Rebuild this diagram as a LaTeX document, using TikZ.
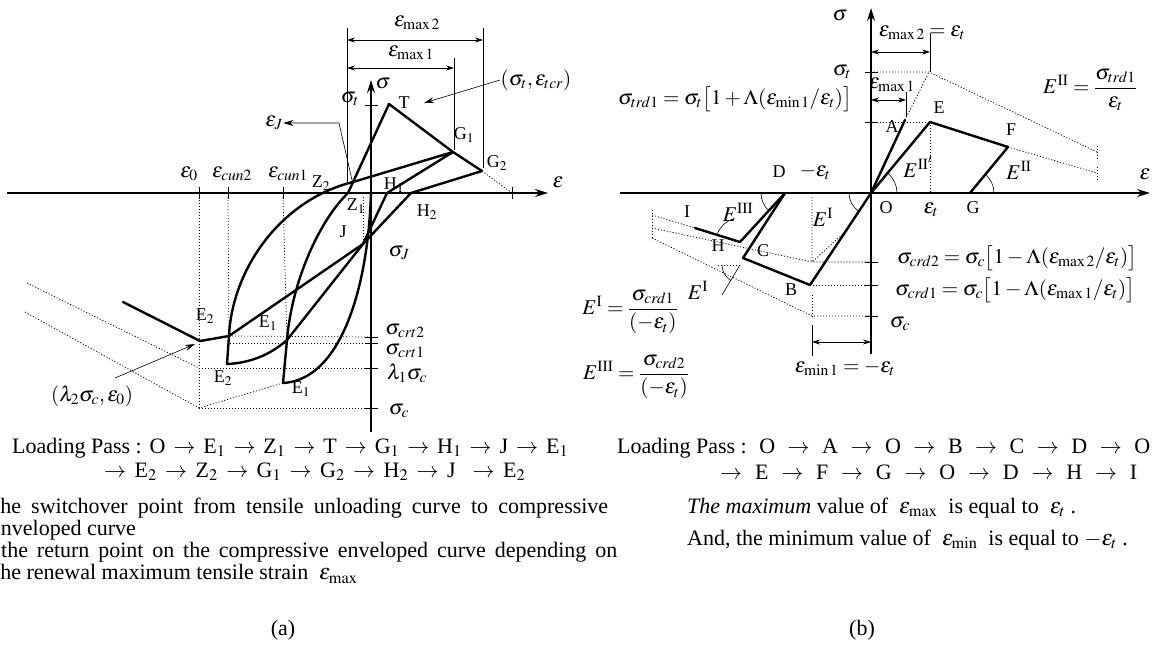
\documentclass[tikz,border=0pt]{standalone}
\usepackage{amsmath}
\usepackage{mathptmx}
\usepackage[no-math]{fontspec}
\setmainfont{Liberation Serif}
\usetikzlibrary{arrows.meta}
\begin{document}
\begin{tikzpicture}[x=1pt,y=-1pt,
  crv/.style={line width=2.4pt,line join=round,line cap=round},
  axl/.style={line width=1.5pt},
  dtl/.style={line width=0.7pt,dash pattern=on 1.2pt off 1.8pt},
  thn/.style={line width=0.6pt},
  tck/.style={line width=1pt},
  lbl/.style={font=\fontsize{18}{20}\selectfont,inner sep=0.5pt},
  mlb/.style={font=\fontsize{21}{23}\selectfont,inner sep=0.5pt},
  txt/.style={font=\fontsize{22}{24}\selectfont,inner sep=0pt,anchor=west},
  axarrow/.style={-{Stealth[length=13pt,width=8pt]}},
  dim/.style={thn,{Stealth[length=8pt,width=5pt]}-{Stealth[length=8pt,width=5pt]}},
  lead/.style={thn,-{Stealth[length=10pt,width=6pt]}}
]
\useasboundingbox (0,0) rectangle (1153,654);

%================ (a) =================
\coordinate (aXs) at (7,193);   \coordinate (aXe) at (548,193);
\coordinate (aYs) at (371,432); \coordinate (aYe) at (371,80);
\coordinate (aO) at (371,193);
\coordinate (aT) at (389,104);
\coordinate (aG1) at (453,152);
\coordinate (aG2) at (482,171);
\coordinate (aEnv) at (512,193);
\coordinate (aH1) at (387,193);
\coordinate (aH2) at (411,193);
\coordinate (aJ) at (363,244);
\coordinate (aZ1) at (348,193);
\coordinate (aZ2) at (353,182);
\coordinate (aE1u) at (287,340);
\coordinate (aE1l) at (283,383);
\coordinate (aE2u) at (229,336);
\coordinate (aE2l) at (227,364);
\coordinate (aP0) at (200,341);
\coordinate (aPend) at (123,302);

% dotted guides
\draw[dtl] (aG2) -- (aEnv);
\draw[dtl] (199,197) -- (199,408);
\draw[dtl] (228,197) -- (aE2u);
\draw[dtl] (283,197) -- (aE1u);
\draw[dtl] (363,197) -- (aJ);
\draw[dtl] (aE2u) -- (371,337);
\draw[dtl] (230,343) -- (371,343);
\draw[dtl] (199,368) -- (371,368);
\draw[dtl] (199,408) -- (371,408);
\draw[dtl] (27,283) -- (199,368);
\draw[dtl] (25,312) -- (199,408) -- (aE1l);

% axes
\draw[axl,axarrow] (aXs) -- (aXe);
\draw[axl,axarrow] (aYs) -- (aYe);
\foreach \x in {199,228,283,512} \draw[tck] (\x,187) -- (\x,199);
\foreach \y in {105,337,343,368,408} \draw[tck] (365,\y) -- (378,\y);

% curves
\draw[crv] (aO) .. controls (368,290) and (340,380) .. (aE1l);
\draw[crv] (aE1l) -- (aE1u) .. controls (292,280) and (320,220) .. (aZ1) -- (aT) -- (aG1) -- (aG2);
\draw[crv] (aG1) -- (aH1) -- (aJ) -- (aE1u) .. controls (270,355) and (250,363) .. (aE2l) -- (aE2u)
  .. controls (232,270) and (280,200) .. (aZ2) -- (aG1);
\draw[crv] (aG2) -- (aH2) -- (aJ) -- (aE2u) -- (aP0) -- (aPend);

% dimension lines
\draw[thn] (347,28) -- (347,183);
\draw[thn] (483,28) -- (483,168);
\draw[thn] (454,58) -- (454,150);
\coordinate (aM2l) at (347,40); \coordinate (aM2r) at (483,40);
\coordinate (aM1l) at (347,68); \coordinate (aM1r) at (454,68);
\draw[dim] (aM2l) -- (aM2r);
\draw[dim] (aM1l) -- (aM1r);

% labels (a)
\node[mlb] (aLeps) at (558,182) {$\varepsilon$};
\node[mlb] (aLsig) at (383,84) {$\sigma$};
\node[mlb] (aLmax2) at (417,23) {$\varepsilon_{\mathrm{max}\,2}$};
\node[mlb] (aLmax1) at (411,53) {$\varepsilon_{\mathrm{max}\,1}$};
\node[mlb] (aLtcr) at (536,80) {$(\sigma_t,\varepsilon_{tcr})$};
\draw[lead] (aLtcr.west) -- (424,103);
\node[lbl] (aLT) at (404,103) {T};
\node[mlb] (aLsigt) at (350,99) {$\sigma_t$};
\node[mlb] (aLepsJ) at (274,123) {$\varepsilon_J$};
\coordinate (aJk) at (339,123);
\draw[thn,-{Stealth[length=10pt,width=6pt]}] (352,180) -- (aJk) -- (aLepsJ.east);
\node[lbl] (aLG1) at (464,135) {G$_1$};
\node[lbl] (aLG2) at (497,163) {G$_2$};
\node[mlb] (aLe0) at (189,174) {$\varepsilon_0$};
\node[mlb] (aLcun2) at (232,174) {$\varepsilon_{cun2}$};
\node[mlb] (aLcun1) at (288,174) {$\varepsilon_{cun1}$};
\node[lbl] (aLZ2) at (321,183) {Z$_2$};
\node[lbl] (aLH1) at (394,185) {H$_1$};
\node[lbl] (aLZ1) at (356,206) {Z$_1$};
\node[lbl] (aLH2) at (427,212) {H$_2$};
\node[lbl] (aLJ) at (343,232) {J};
\node[mlb] (aLsJ) at (399,253) {$\sigma_J$};
\node[lbl] (aLE2a) at (205,316) {E$_2$};
\node[lbl] (aLE1a) at (268,323) {E$_1$};
\node[lbl] (aLE2b) at (223,378) {E$_2$};
\node[lbl] (aLE1b) at (301,389) {E$_1$};
\node[mlb] (aLcrt2) at (405,331) {$\sigma_{crt2}$};
\node[mlb] (aLcrt1) at (405,351) {$\sigma_{crt1}$};
\node[mlb] (aLl1) at (407,373) {$\lambda_1\sigma_c$};
\node[mlb] (aLsc) at (399,411) {$\sigma_c$};
\node[mlb] (aLl2) at (92,396) {$(\lambda_2\sigma_c,\varepsilon_0)$};
\draw[lead] (115,378) -- (195,344);

%================ (b) =================
\coordinate (bXs) at (620,193);  \coordinate (bXe) at (1150,193);
\coordinate (bYs) at (871,354);  \coordinate (bYe) at (871,8);
\coordinate (bO) at (871,193);
\coordinate (bA) at (905,120);
\coordinate (bE) at (930,122);
\coordinate (bF) at (1008,147);
\coordinate (bG) at (970,193);
\coordinate (bD) at (785,193);
\coordinate (bB) at (810,285);
\coordinate (bC) at (743,258);
\coordinate (bH) at (740,242);
\coordinate (bI) at (695,228);
\coordinate (bTop) at (929,72);
\coordinate (bQ) at (740,265);

% dotted guides
\draw[dtl] (871,72) -- (bTop) -- (1097,152);
\draw[dtl] (bA) -- (bTop);
\draw[dtl] (1097,146) -- (1097,160);
\draw[dtl] (871,122) -- (bE);
\draw[dtl] (bF) -- (1097,173);
\draw[dtl] (1097,167) -- (1097,181);
\draw[dtl] (bE) -- (930,193);
\draw[dtl] (652,228) -- (812,262) -- (871,262);
\draw[dtl] (812,197) -- (812,262) -- (845,232);
\draw[dtl] (bB) -- (871,285);
\draw[dtl] (652,238) -- (812,316) -- (871,316);
\draw[dtl] (812,295) -- (812,318);
\draw[dtl] (652,215) -- (bI);
\draw[dtl] (652,210) -- (652,240);
\draw[dtl] (bQ) -- (718,265);

% axes
\draw[axl,axarrow] (bXs) -- (bXe);
\draw[axl,axarrow] (bYs) -- (bYe);
\foreach \y in {72,122,262,285,316} \draw[tck] (865,\y) -- (878,\y);

% paths
\draw[crv] (bD) -- (bO) -- (bG);
\draw[crv] (bO) -- (bA);
\draw[crv] (bO) -- (bB) -- (bC) -- (bD);
\draw[crv] (bO) -- (bE) -- (bF) -- (bG);
\draw[crv] (bD) -- (bH) -- (bI);

% angle arcs
\draw[thn] ([xshift=26pt]bO) arc[start angle=0,end angle=50,radius=26pt];
\draw[thn] ([xshift=24pt]bG) arc[start angle=0,end angle=50,radius=24pt];
\draw[thn] ([xshift=-22pt]bO) arc[start angle=180,end angle=236,radius=22pt];
\draw[thn] ([xshift=-24pt]bD) arc[start angle=180,end angle=228,radius=24pt];
\draw[thn] (bH) ++(105:24pt) arc[start angle=105,end angle=160,radius=24pt];
\draw[thn] ([xshift=-18pt]bQ) arc[start angle=180,end angle=239,radius=18pt];
\coordinate (bQe) at (722,295);
\draw[thn] (bQ) -- (bQe);

% dimension lines
\draw[thn] (930,33) -- (930,72);
\draw[thn] (906,92) -- (906,117);
\coordinate (bM2l) at (871,52); \coordinate (bM2r) at (930,52);
\coordinate (bM1l) at (871,100); \coordinate (bM1r) at (906,100);
\draw[dim] (bM2l) -- (bM2r);
\draw[dim] (bM1l) -- (bM1r);
\draw[thn] (812,325) -- (812,356);
\coordinate (bMnl) at (812,342); \coordinate (bMnr) at (871,342);
\draw[dim] (bMnl) -- (bMnr);

% labels (b)
\node[mlb] (bLsig) at (840,16) {$\sigma$};
\node[mlb] (bLeps) at (1145,174) {$\varepsilon$};
\node[mlb] (bLsigt) at (842,72) {$\sigma_t$};
\node[mlb] (bLtrd) at (735,99) {$\sigma_{trd1}=\sigma_t\bigl[1+\Lambda(\varepsilon_{\mathrm{min}\,1}/\varepsilon_t)\bigr]$};
\node[mlb] (bLmax2) at (922,33) {$\varepsilon_{\mathrm{max}\,2}=\varepsilon_t$};
\node[mlb] (bLmax1) at (892,85) {$\varepsilon_{\mathrm{max}\,1}$};
\node[lbl] (bLA) at (892,127) {A};
\node[lbl] (bLE) at (939,108) {E};
\node[lbl] (bLF) at (1011,130) {F};
\node[mlb] (bLE2p) at (918,167) {$E^{\mathrm{II}'}$};
\node[mlb] (bLE2) at (1019,170) {$E^{\mathrm{II}}$};
\node[lbl] (bLO) at (886,208) {O};
\node[mlb] (bLet) at (931,210) {$\varepsilon_t$};
\node[lbl] (bLG) at (973,208) {G};
\node[mlb] (bLE2f) at (1090,90) {$E^{\mathrm{II}}=\dfrac{\sigma_{trd1}}{\varepsilon_t}$};
\node[lbl] (bLD) at (779,172) {D};
\node[mlb] (bLmet) at (815,172) {$-\varepsilon_t$};
\node[lbl] (bLI) at (687,212) {I};
\node[mlb] (bLE3) at (738,212) {$E^{\mathrm{III}}$};
\node[mlb] (bLE1) at (823,217) {$E^{\mathrm{I}}$};
\node[lbl] (bLH) at (718,246) {H};
\node[lbl] (bLC) at (763,251) {C};
\node[lbl] (bLB) at (791,290) {B};
\node[mlb] (bLE1b) at (698,290) {$E^{\mathrm{I}}$};
\node[mlb] (bLcrd2) at (1017,258) {$\sigma_{crd2}=\sigma_c\bigl[1-\Lambda(\varepsilon_{\mathrm{max}\,2}/\varepsilon_t)\bigr]$};
\node[mlb] (bLcrd1) at (1015,290) {$\sigma_{crd1}=\sigma_c\bigl[1-\Lambda(\varepsilon_{\mathrm{max}\,1}/\varepsilon_t)\bigr]$};
\node[mlb] (bLsc) at (900,324) {$\sigma_c$};
\node[mlb] (bLmin) at (845,368) {$\varepsilon_{\mathrm{min}\,1}=-\varepsilon_t$};
\node[mlb] (bLfE1) at (630,312) {$E^{\mathrm{I}}=\dfrac{\sigma_{crd1}}{(-\varepsilon_t)}$};
\node[mlb] (bLfE3) at (636,377) {$E^{\mathrm{III}}=\dfrac{\sigma_{crd2}}{(-\varepsilon_t)}$};

%================ texts =================
\node[txt] (ta1) at (12,448) {\makebox[556pt][s]{\mbox{Loading Pass :} O $\rightarrow$ E$_1$ $\rightarrow$ Z$_1$ $\rightarrow$ T $\rightarrow$ G$_1$ $\rightarrow$ H$_1$ $\rightarrow$ J $\rightarrow$ E$_1$}};
\node[txt] (ta2) at (104,472) {\makebox[421pt][s]{$\rightarrow$ E$_2$ $\rightarrow$ Z$_2$ $\rightarrow$ G$_1$ $\rightarrow$ G$_2$ $\rightarrow$ H$_2$ $\rightarrow$ J \ $\rightarrow$ E$_2$}};
\node[txt] (ta3) at (-6,508) {\makebox[614pt][s]{the switchover point from tensile unloading curve to compressive}};
\node[txt] (ta4) at (-9,530) {enveloped curve};
\node[txt] (ta5) at (1,552) {\makebox[616pt][s]{the return point on the compressive enveloped curve depending on}};
\node[txt] (ta6) at (-6,574) {the renewal maximum tensile strain \ $\varepsilon_{\mathrm{max}}$};
\node[txt] (tb1) at (617,448) {\makebox[533pt][s]{\mbox{Loading Pass :} O $\rightarrow$ A $\rightarrow$ O $\rightarrow$ B $\rightarrow$ C $\rightarrow$ D $\rightarrow$ O}};
\node[txt] (tb2) at (720,472) {\makebox[417pt][s]{$\rightarrow$ E $\rightarrow$ F $\rightarrow$ G $\rightarrow$ O $\rightarrow$ D $\rightarrow$ H $\rightarrow$ I}};
\node[txt] (tb3) at (687,508) {\textit{The maximum} value of \ $\varepsilon_{\mathrm{max}}$ \ is equal to \ $\varepsilon_t$ .};
\node[txt] (tb4) at (687,540) {And, the minimum value of \ $\varepsilon_{\mathrm{min}}$ \ is equal to $-\varepsilon_t$ .};
\node[txt,anchor=center] (capa) at (283,630) {(a)};
\node[txt,anchor=center] (capb) at (862,630) {(b)};
\end{tikzpicture}
\end{document}
